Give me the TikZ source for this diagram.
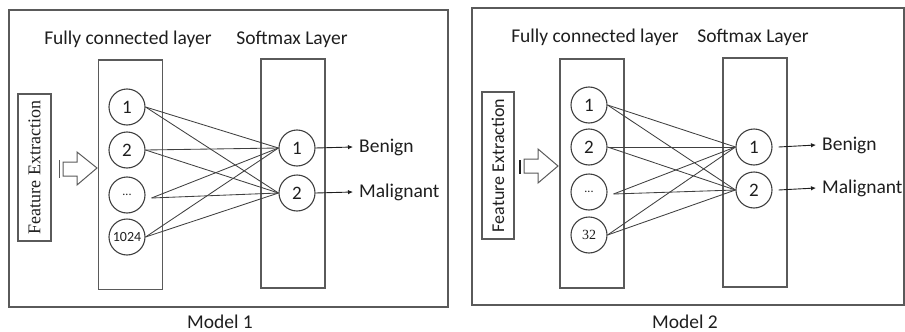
\documentclass[tikz,border=0pt]{standalone}
\usepackage{fontspec}
\setmainfont{Carlito}
\newfontfamily\timesfont{Liberation Serif}
\usetikzlibrary{arrows.meta}
\definecolor{ink}{HTML}{1E1E1E}
\definecolor{wirec}{HTML}{404040}
\definecolor{framec}{HTML}{5A5A5A}

\begin{document}
\begin{tikzpicture}[x=1pt,y=-1pt,
  panel/.style={draw=framec, line width=1.3pt, inner sep=0pt},
  layerbox/.style={draw=framec, line width=1.1pt, inner sep=0pt, minimum width=64pt, minimum height=229pt},
  febox/.style={draw=framec, line width=1.1pt, inner sep=0pt, minimum width=33pt, minimum height=147pt},
  neuron/.style={circle, draw=wirec, line width=1.1pt, minimum size=36pt, inner sep=0pt,
    font=\fontsize{19}{19}\selectfont, text=ink},
  wire/.style={draw=wirec, line width=0.85pt},
  lbl/.style={font=\fontsize{19.5}{20}\selectfont, text=ink, inner sep=0pt},
  outarrow/.style={draw=ink, line width=0.9pt, -{Latex[length=5pt,width=4.5pt]}},
  hollow/.style={draw=framec, line width=1pt, fill=white}
]
\useasboundingbox (0,0) rectangle (905,332);

% ---------------- Model 1 ----------------
\node[panel, minimum width=439pt, minimum height=297pt] (pA) at (228.5,158.5) {};
\node[lbl] (tfcA) at (128,39) {Fully connected layer};
\node[lbl] (tsmA) at (292,39) {Softmax Layer};
\node[layerbox] (fcA) at (130.5,175) {};
\draw[framec, line width=2.2pt] (fcA.north west) -- (fcA.north east);
\node[layerbox] (smA) at (293,173.5) {};
\node[febox] (feA) at (34.5,167.5) {};
\node[rotate=90, text=ink, font=\timesfont\fontsize{18}{18}\selectfont, inner sep=0pt] (feAt) at (feA.center) {Feature Extraction};

% hollow input arrow
\draw[hollow] (63,162) -- (77,162) -- (77,152) -- (97,168) -- (77,185) -- (77,176) -- (63,176) -- cycle;
\draw[framec, line width=1pt] (59.5,160) -- (59.5,178);

\node[neuron] (aA1) at (127,107) {1};
\node[neuron] (aA2) at (127,150) {2};
\node[neuron, font=\fontsize{12}{12}\selectfont] (aA3) at (127,195) {...};
\node[neuron, font=\fontsize{14}{14}\selectfont] (aA4) at (127,237) {1024};
\coordinate (aA3o) at ([xshift=6pt,yshift=-3pt]aA3.east);

\node[neuron] (sA1) at (297,148) {1};
\node[neuron] (sA2) at (297,193) {2};

\foreach \s in {aA1.east,aA2.east,aA3o,aA4.east}{
  \draw[wire] (\s) -- (sA1.west);
  \draw[wire] (\s) -- (sA2.west);
}

\node[lbl, anchor=west] (bA) at (359,147) {Benign};
\node[lbl, anchor=west] (mA) at (359,192) {Malignant};
\draw[outarrow] (sA1.east) -- ([xshift=-6pt]bA.west);
\draw[outarrow] (sA2.east) -- ([xshift=-6pt]mA.west);

\node[lbl] (capA) at (220,322) {Model 1};

% ---------------- Model 2 ----------------
\node[panel, minimum width=432pt, minimum height=297pt] (pB) at (688,156.5) {};
\node[lbl] (tfcB) at (595,37) {Fully connected layer};
\node[lbl] (tsmB) at (753,37) {Softmax Layer};
\node[layerbox] (fcB) at (592,173.5) {};
\node[layerbox] (smB) at (755,172.5) {};
\node[febox, minimum width=32pt] (feB) at (498,165.5) {};
\node[rotate=90, text=ink, font=\fontsize{18}{18}\selectfont, inner sep=0pt] (feBt) at (feB.center) {Feature Extraction};

% hollow input arrow
\draw[hollow] (524,159) -- (538,159) -- (538,149) -- (558,166) -- (538,183) -- (538,173) -- (524,173) -- cycle;
\draw[ink, line width=1.8pt] (520,160) -- (520,174);

\node[neuron] (aB1) at (589,105) {1};
\node[neuron] (aB2) at (589,147) {2};
\node[neuron, font=\fontsize{12}{12}\selectfont] (aB3) at (589,192) {...};
\node[neuron, font=\timesfont\fontsize{14}{14}\selectfont] (aB4) at (589,235) {32};
\coordinate (aB3o) at ([xshift=6pt,yshift=-2pt]aB3.east);

\node[neuron] (sB1) at (754,147) {1};
\node[neuron] (sB2) at (754,190) {2};

\foreach \s in {aB1.east,aB2.east,aB3o,aB4.east}{
  \draw[wire] (\s) -- (sB1.west);
  \draw[wire] (\s) -- (sB2.west);
}

\node[lbl, anchor=west] (bB) at (822,145) {Benign};
\node[lbl, anchor=west] (mB) at (822,188) {Malignant};
\draw[outarrow] ([xshift=6pt]sB1.east) -- ([xshift=-6pt]bB.west);
\draw[outarrow] ([xshift=6pt]sB2.east) -- ([xshift=-6pt]mB.west);

\node[lbl] (capB) at (685,322) {Model 2};
\end{tikzpicture}
\end{document}
